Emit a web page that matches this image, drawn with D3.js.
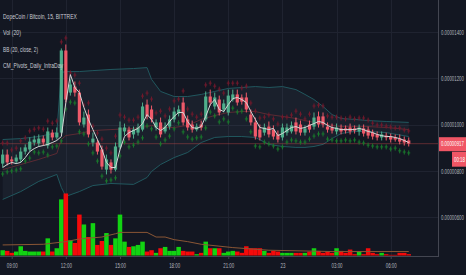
<!DOCTYPE html>
<html>
<head>
<meta charset="utf-8">
<script src="https://cdn.jsdelivr.net/npm/d3@7"></script>
<style>
  body { margin: 0; background: #131722; }
  svg { display: block; }
</style>
</head>
<body>
<div id="chart"></div>
<script>
var width = 466, height = 275,
    plotW = 438, plotH = 256;

// 15 min candles, 22 Aug 08:30 -> 23 Aug 07:00 (prices in satoshi)
var open = [831,870,849,840,849,883,892,922,918,939, 909,965,944,965,1320,1138,1164,1138,1000,1043,
  922,922,892,805,836,805,901,970,978,957, 965,978,1086,1065,987,1009,970,991,1022,1048,
  1095,1022,1000,978,1000,1022,1121,1078,1108,1065, 1052,1108,1130,1117,1117,1043,1009,978,965,991,
  978,957,944,965,970,1009,1000,965,1000,991, 1035,1035,991,987,970,983,983,987,983,970,
  983,978,965,957,944,952,948,944,939,935, 931];
var high = [892,892,862,870,901,914,944,952,957,952, 987,978,987,1329,1346,1195,1186,1151,1056,1065,
  965,935,909,870,849,922,1013,1004,991,991, 1004,1095,1108,1082,1022,1030,1009,1039,1074,1082,
  1117,1039,1017,1004,1017,1143,1151,1138,1125,1108, 1151,1151,1151,1130,1138,1065,1030,1000,1004,1013,
  996,974,1004,1004,1013,1030,1017,996,1017,1052, 1056,1052,1009,1004,1004,1000,996,1004,996,1000,
  1000,991,978,970,970,965,961,957,957,948, 944];
var low = [814,823,827,831,836,870,883,909,905,909, 896,931,935,957,1095,1125,1121,996,987,944,
  905,870,805,784,788,797,892,952,931,939, 952,970,1022,1009,974,944,961,978,1009,1035,
  996,974,965,970,974,1013,1082,1065,1039,1052, 1039,1099,1082,1086,1052,996,935,931,952,944,
  935,922,931,952,961,957,952,952,965,978, 987,987,965,961,957,957,961,957,961,952,
  948,939,935,931,931,931,922,926,914,909, 905];
var close = [870,836,840,857,883,901,926,935,939,922, 970,944,965,1320,1108,1173,1138,1009,1030,957,
  939,883,818,849,805,905,987,987,944,978, 987,1078,1035,1022,1009,957,991,1022,1056,1065,
  1009,987,978,991,987,1121,1095,1117,1052,1091, 1125,1130,1095,1099,1065,1009,948,944,987,957,
  948,935,987,987,996,970,965,983,978,1030, 1000,1000,978,974,987,970,974,970,974,987,
  961,952,948,944,957,944,935,935,926,922, 917];
var volume = [8,7,4,6,14,7,6,6,6,6, 26,6,11,85,94,23,19,62,47,28,
  49,16,22,34,16,26,62,21,13,14, 16,21,6,8,4,11,13,7,7,13,
  7,6,6,2,4,21,11,11,11,4, 6,7,6,4,14,11,11,11,7,4,
  7,6,4,4,4,4,4,4,6,11, 7,4,6,4,11,7,4,9,2,6,
  2,11,4,2,4,2,1,1,4,4, 2];
// light moving line over the candles
var fastLine = [814,827,836,831,836,857,883,896,905,909, 914,922,931,948,1095,1216,1160,1138,1074,1022,
  978,935,892,836,814,814,892,948,965,974, 983,1004,1043,1022,987,974,987,1013,1035,1052,
  1052,1013,987,983,991,1035,1086,1108,1065,1056, 1086,1112,1117,1108,1095,1056,1022,987,983,978,
  983,952,961,974,987,991,983,987,996,1004, 1013,1009,996,987,983,978,978,978,978,983,
  978,970,965,957,952,948,948,944,939,931, 922];

// Bollinger bands, read at these bars
var bandBars = [0,4,8,12,13,14,17,20,24,29,32,33,35,38,41,44,47,50,53,56,59,62,65,67,69,71,73,75,78,81,85,90];
var bbUpper = [935,939,948,965,1225,1229,1229,1233,1238,1242,1246,1195,1143,1121,1121,1130,
  1143,1156,1160,1164,1160,1164,1151,1130,1108,1078,1043,1026,1022,1017,1013,1009];
var bbLower = [676,710,754,784,728,689,710,736,745,741,771,797,827,857,879,922,
  944,948,948,944,914,905,901,901,905,914,939,961,970,970,965,948];
var bbBasis = [805,827,849,875,935,952,961,974,978,983,991,996,987,987,996,1022,
  1039,1052,1056,1056,1043,1035,1026,1017,1009,1004,996,991,991,991,987,978];

// volume MA (20)
var volMaBars = [0,9,14,17,22,25,26,32,34,36,38,41,44,51,59,73,90];
var volMa = [16,17,21,25,28,33,35,35,28,28,24,21,17,12,8,6,6];

var priceTicks = [600, 800, 1000, 1200, 1400];
var lastPrice = 917;
var countdown = "00:18";
var legend = ["DopeCoin / Bitcoin, 15, BITTREX", "Vol (20)", "BB (20, close, 2)", "CM_Pivots_Daily_IntraDay"];
var legendWidth = [74, 18, 35, 60];

var t0 = Date.UTC(2017, 7, 22, 8, 30);
var barTime = function (i) { return new Date(t0 + i * 15 * 60000); };

var upColor = "#4fae8b", downColor = "#ef5a6a";
var volUp = "#12d312", volDown = "#f50a0a";
var font = "'Liberation Sans', 'DejaVu Sans', sans-serif";

// squeeze a text horizontally so it is w pixels wide, keeping its left edge
function fitWidth(sel, w) {
    sel.each(function (d, k) {
        var t = d3.select(this);
        var target = typeof w === "function" ? w(d, k) : w;
        var len = this.getComputedTextLength();
        var x0 = +t.attr("x") || 0;
        var s = target / len;
        t.attr("transform", "translate(" + x0 + ",0) scale(" + s + ",1) translate(" + (-x0) + ",0)");
    });
}

var svg = d3.select("#chart")
    .append("svg")
    .attr("width", width)
    .attr("height", height);

svg.append("rect").attr("width", width).attr("height", height).attr("fill", "#131722");

var x = d3.scaleUtc()
    .domain([new Date(Date.UTC(2017, 7, 22, 9)), new Date(Date.UTC(2017, 7, 23, 6))])
    .range([11.7, 390.7]);
var step = x(barTime(1)) - x(barTime(0));

var y = d3.scaleLinear().domain([600, 1400]).range([217, 32]);
var yv = d3.scaleLinear().domain([0, 100]).range([255.5, 189.5]);

svg.append("defs").append("clipPath").attr("id", "plot")
    .append("rect").attr("width", plotW).attr("height", plotH);

var timeTicks = x.ticks(d3.utcHour.every(3));

// grid
var grid = svg.append("g").attr("stroke", "#1f2330").attr("stroke-width", 1);
grid.selectAll(".h").data(priceTicks).enter().append("line")
    .attr("x1", 0).attr("x2", plotW)
    .attr("y1", function (d) { return Math.round(y(d)) + 0.5; })
    .attr("y2", function (d) { return Math.round(y(d)) + 0.5; });
grid.selectAll(".v").data(timeTicks).enter().append("line")
    .attr("y1", 0).attr("y2", plotH)
    .attr("x1", function (d) { return Math.round(x(d)) + 0.5; })
    .attr("x2", function (d) { return Math.round(x(d)) + 0.5; });

var plot = svg.append("g").attr("clip-path", "url(#plot)");

// bollinger bands
var bandIdx = d3.range(bandBars.length);
plot.append("path")
    .datum(bandIdx)
    .attr("fill", "rgba(100,130,150,0.09)")
    .attr("d", d3.area()
        .x(function (k) { return x(barTime(bandBars[k])); })
        .y0(function (k) { return y(bbLower[k]); })
        .y1(function (k) { return y(bbUpper[k]); }));
[bbUpper, bbLower].forEach(function (arr) {
    plot.append("path")
        .datum(bandIdx)
        .attr("fill", "none")
        .attr("stroke", "#21575e")
        .attr("stroke-width", 1)
        .attr("d", d3.line()
            .x(function (k) { return x(barTime(bandBars[k])); })
            .y(function (k) { return y(arr[k]); }));
});
plot.append("path")
    .datum(bandIdx)
    .attr("fill", "none")
    .attr("stroke", "#5c2a33")
    .attr("stroke-width", 1)
    .attr("d", d3.line()
        .x(function (k) { return x(barTime(bandBars[k])); })
        .y(function (k) { return y(bbBasis[k]); }));

// volume
var bars = d3.range(open.length);
plot.append("g").selectAll("rect")
    .data(bars)
    .enter()
    .append("rect")
    .attr("x", function (i) { return x(barTime(i)) - step / 2; })
    .attr("width", step)
    .attr("y", function (i) { return yv(volume[i]); })
    .attr("height", function (i) { return yv(0) - yv(volume[i]); })
    .attr("fill", function (i) { return close[i] >= open[i] ? volUp : volDown; });

plot.append("path")
    .datum(d3.range(volMaBars.length))
    .attr("fill", "none")
    .attr("stroke", "#8a5635")
    .attr("stroke-width", 1)
    .attr("d", d3.line()
        .x(function (k) { return x(barTime(volMaBars[k])); })
        .y(function (k) { return yv(volMa[k]); }));

// last price line
plot.append("line")
    .attr("x1", 0).attr("x2", plotW)
    .attr("y1", y(lastPrice)).attr("y2", y(lastPrice))
    .attr("stroke", "rgba(239,83,80,0.35)")
    .attr("stroke-width", 1);

// pivot crosses
function cross(cx, cy) {
    return "M" + cx + "," + (cy - 2.5) + "V" + (cy + 2.5) + "M" + (cx - 1.5) + "," + cy + "H" + (cx + 1.5);
}
plot.append("g").selectAll("path")
    .data(bars)
    .enter()
    .append("path")
    .attr("stroke", "#74192c")
    .attr("stroke-width", 1)
    .attr("d", function (i) { return cross(x(barTime(i)), y(high[i] + 28)); });
plot.append("g").selectAll("path")
    .data(bars)
    .enter()
    .append("path")
    .attr("stroke", "#197a2c")
    .attr("stroke-width", 1)
    .attr("d", function (i) { return cross(x(barTime(i)), y(low[i] - 28)); });

// candles
var candle = plot.append("g").selectAll("g")
    .data(bars)
    .enter()
    .append("g")
    .attr("fill", function (i) { return close[i] >= open[i] ? upColor : downColor; })
    .attr("stroke", function (i) { return close[i] >= open[i] ? upColor : downColor; });
candle.append("line")
    .attr("x1", function (i) { return x(barTime(i)); })
    .attr("x2", function (i) { return x(barTime(i)); })
    .attr("y1", function (i) { return y(high[i]); })
    .attr("y2", function (i) { return y(low[i]); })
    .attr("stroke-width", 1);
candle.append("rect")
    .attr("stroke", "none")
    .attr("x", function (i) { return x(barTime(i)) - 1.6; })
    .attr("width", 3.2)
    .attr("y", function (i) { return y(Math.max(open[i], close[i])); })
    .attr("height", function (i) { return Math.max(1, Math.abs(y(open[i]) - y(close[i]))); });

plot.append("path")
    .datum(bars)
    .attr("fill", "none")
    .attr("stroke", "#d6d6d6")
    .attr("stroke-width", 1)
    .attr("d", d3.line()
        .x(function (i) { return x(barTime(i)); })
        .y(function (i) { return y(fastLine[i]); }));

// axis frame
svg.append("line").attr("x1", plotW + 0.5).attr("x2", plotW + 0.5).attr("y1", 0).attr("y2", plotH + 1)
    .attr("stroke", "#434651");
svg.append("line").attr("x1", 0).attr("x2", plotW + 1).attr("y1", plotH + 0.5).attr("y2", plotH + 0.5)
    .attr("stroke", "#434651");

// price axis
var yAxis = svg.append("g")
    .attr("transform", "translate(" + (plotW + 3) + ",0)")
    .call(d3.axisRight(y).tickValues(priceTicks).tickSize(0).tickPadding(0)
        .tickFormat(function (d) { return (d / 1e8).toFixed(8); }));
yAxis.select(".domain").remove();
yAxis.selectAll("text")
    .attr("x", 0)
    .attr("fill", "#b2b5be")
    .style("font-family", font)
    .style("font-size", "7px")
    .call(fitWidth, 23);

// time axis
var xAxis = svg.append("g")
    .attr("transform", "translate(0," + (plotH + 1) + ")")
    .call(d3.axisBottom(x).tickValues(timeTicks).tickSize(2).tickPadding(4)
        .tickFormat(function (d) {
            return d.getUTCHours() === 0 ? d3.utcFormat("%-d")(d) : d3.utcFormat("%H:%M")(d);
        }));
xAxis.select(".domain").remove();
xAxis.selectAll("line").attr("stroke", "#434651");
xAxis.selectAll("text")
    .attr("fill", "#b2b5be")
    .style("font-family", font)
    .style("font-size", "7px")
    .attr("text-anchor", "start")
    .attr("x", function (d) { return d.getUTCHours() === 0 ? -2.5 : -5.5; })
    .call(fitWidth, function (d) { return d.getUTCHours() === 0 ? 5 : 11; });

// last price badge and countdown
svg.append("rect").attr("x", plotW + 1).attr("y", y(lastPrice) - 6.5)
    .attr("width", width - plotW - 1).attr("height", 14).attr("fill", "#f05665");
svg.append("text").attr("x", plotW + 3).attr("y", y(lastPrice) + 2.8)
    .attr("fill", "#ffffff").style("font-family", font).style("font-size", "7px")
    .text((lastPrice / 1e8).toFixed(8))
    .call(fitWidth, 23);
svg.append("rect").attr("x", 452).attr("y", y(lastPrice) + 8)
    .attr("width", 14).attr("height", 15).attr("fill", "#f05665");
svg.append("text").attr("x", 454).attr("y", y(lastPrice) + 18)
    .attr("fill", "#ffffff").style("font-family", font).style("font-size", "7px")
    .text(countdown)
    .call(fitWidth, 11);

// legend
svg.append("g").selectAll("text")
    .data(legend)
    .enter()
    .append("text")
    .attr("x", 3)
    .attr("y", function (d, k) { return 19 + k * 16.4; })
    .attr("fill", "#c9ccd4")
    .style("font-family", font)
    .style("font-size", "7.5px")
    .text(function (d) { return d; })
    .call(fitWidth, function (d, k) { return legendWidth[k]; });
</script>
</body>
</html>
